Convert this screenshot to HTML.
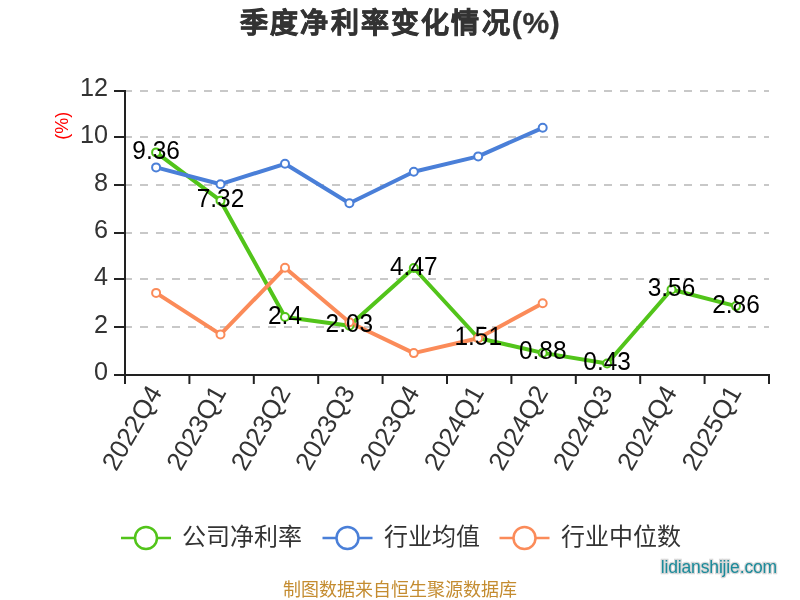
<!DOCTYPE html>
<html lang="zh-CN"><head><meta charset="utf-8"><style>
html,body{margin:0;padding:0;background:#fff;}
body{width:800px;height:600px;overflow:hidden;position:relative;font-family:"Liberation Sans",sans-serif;}
svg{position:absolute;left:0;top:0;will-change:transform;}
.ax{font-size:26px;fill:#333;}
.dl{font-size:26px;fill:#000;}
.yn{font-size:18px;fill:#f00;}
.lg{font-size:24px;fill:#333;}
.title{font-size:28px;font-weight:bold;fill:#333;stroke:#333;stroke-width:0.7px;letter-spacing:2.2px;}
.foot{font-size:18px;fill:#c48c30;}
.wm{font-size:17.5px;letter-spacing:-0.15px;fill:#1a8a9a;stroke:#d8d8d8;stroke-width:2.5px;paint-order:stroke;}
</style></head><body>
<svg width="800" height="600" viewBox="0 0 800 600">
<text x="240" y="32.5" class="title">季度净利率变化情况<tspan style="font-size:30px;stroke-width:0.3px;letter-spacing:0.6px">(%)</tspan></text>
<line x1="124" y1="91" x2="769" y2="91" stroke="#c8c8c8" stroke-width="2" stroke-dasharray="8 8"/>
<line x1="124" y1="137" x2="769" y2="137" stroke="#c8c8c8" stroke-width="2" stroke-dasharray="8 8"/>
<line x1="124" y1="185" x2="769" y2="185" stroke="#c8c8c8" stroke-width="2" stroke-dasharray="8 8"/>
<line x1="124" y1="233" x2="769" y2="233" stroke="#c8c8c8" stroke-width="2" stroke-dasharray="8 8"/>
<line x1="124" y1="279" x2="769" y2="279" stroke="#c8c8c8" stroke-width="2" stroke-dasharray="8 8"/>
<line x1="124" y1="327" x2="769" y2="327" stroke="#c8c8c8" stroke-width="2" stroke-dasharray="8 8"/>
<line x1="114" y1="91" x2="125" y2="91" stroke="#222" stroke-width="2"/>
<text transform="translate(108,96.00) scale(0.97,1)" text-anchor="end" class="ax">12</text>
<line x1="114" y1="137" x2="125" y2="137" stroke="#222" stroke-width="2"/>
<text transform="translate(108,143.33) scale(0.97,1)" text-anchor="end" class="ax">10</text>
<line x1="114" y1="185" x2="125" y2="185" stroke="#222" stroke-width="2"/>
<text transform="translate(108,190.67) scale(0.97,1)" text-anchor="end" class="ax">8</text>
<line x1="114" y1="233" x2="125" y2="233" stroke="#222" stroke-width="2"/>
<text transform="translate(108,238.00) scale(0.97,1)" text-anchor="end" class="ax">6</text>
<line x1="114" y1="279" x2="125" y2="279" stroke="#222" stroke-width="2"/>
<text transform="translate(108,285.33) scale(0.97,1)" text-anchor="end" class="ax">4</text>
<line x1="114" y1="327" x2="125" y2="327" stroke="#222" stroke-width="2"/>
<text transform="translate(108,332.66) scale(0.97,1)" text-anchor="end" class="ax">2</text>
<line x1="114" y1="375" x2="125" y2="375" stroke="#222" stroke-width="2"/>
<text transform="translate(108,380.00) scale(0.97,1)" text-anchor="end" class="ax">0</text>
<line x1="125" y1="90" x2="125" y2="376" stroke="#222" stroke-width="2"/>
<line x1="124" y1="375" x2="770" y2="375" stroke="#222" stroke-width="2"/>
<line x1="125.0" y1="375" x2="125.0" y2="384" stroke="#222" stroke-width="2"/>
<line x1="189.4" y1="375" x2="189.4" y2="384" stroke="#222" stroke-width="2"/>
<line x1="253.8" y1="375" x2="253.8" y2="384" stroke="#222" stroke-width="2"/>
<line x1="318.2" y1="375" x2="318.2" y2="384" stroke="#222" stroke-width="2"/>
<line x1="382.6" y1="375" x2="382.6" y2="384" stroke="#222" stroke-width="2"/>
<line x1="447.0" y1="375" x2="447.0" y2="384" stroke="#222" stroke-width="2"/>
<line x1="511.4" y1="375" x2="511.4" y2="384" stroke="#222" stroke-width="2"/>
<line x1="575.8" y1="375" x2="575.8" y2="384" stroke="#222" stroke-width="2"/>
<line x1="640.2" y1="375" x2="640.2" y2="384" stroke="#222" stroke-width="2"/>
<line x1="704.6" y1="375" x2="704.6" y2="384" stroke="#222" stroke-width="2"/>
<line x1="769.0" y1="375" x2="769.0" y2="384" stroke="#222" stroke-width="2"/>
<text transform="translate(146.0,382.6) rotate(-60)" text-anchor="end" dominant-baseline="hanging" class="ax">2022Q4</text>
<text transform="translate(210.4,382.6) rotate(-60)" text-anchor="end" dominant-baseline="hanging" class="ax">2023Q1</text>
<text transform="translate(274.8,382.6) rotate(-60)" text-anchor="end" dominant-baseline="hanging" class="ax">2023Q2</text>
<text transform="translate(339.2,382.6) rotate(-60)" text-anchor="end" dominant-baseline="hanging" class="ax">2023Q3</text>
<text transform="translate(403.6,382.6) rotate(-60)" text-anchor="end" dominant-baseline="hanging" class="ax">2023Q4</text>
<text transform="translate(468.0,382.6) rotate(-60)" text-anchor="end" dominant-baseline="hanging" class="ax">2024Q1</text>
<text transform="translate(532.4,382.6) rotate(-60)" text-anchor="end" dominant-baseline="hanging" class="ax">2024Q2</text>
<text transform="translate(596.8,382.6) rotate(-60)" text-anchor="end" dominant-baseline="hanging" class="ax">2024Q3</text>
<text transform="translate(661.2,382.6) rotate(-60)" text-anchor="end" dominant-baseline="hanging" class="ax">2024Q4</text>
<text transform="translate(725.6,382.6) rotate(-60)" text-anchor="end" dominant-baseline="hanging" class="ax">2025Q1</text>
<polyline points="156.1,152.4 220.5,200.7 285.0,317.0 349.4,325.7 413.8,268.0 478.2,338.0 542.7,352.9 607.1,363.5 671.5,289.5 736.0,306.1" fill="none" stroke="#52c41a" stroke-width="4" stroke-linejoin="round"/>
<polyline points="156.1,167.4 220.5,184.2 285.0,163.8 349.4,203.2 413.8,171.7 478.2,156.4 542.7,127.8" fill="none" stroke="#4a7fd8" stroke-width="4" stroke-linejoin="round"/>
<polyline points="156.1,292.9 220.5,334.4 285.0,267.8 349.4,322.2 413.8,353.1 478.2,338.3 542.7,303.2" fill="none" stroke="#fb8b59" stroke-width="4" stroke-linejoin="round"/>
<circle cx="156.1" cy="152.4" r="4" fill="#fff" stroke="#52c41a" stroke-width="2"/>
<circle cx="220.5" cy="200.7" r="4" fill="#fff" stroke="#52c41a" stroke-width="2"/>
<circle cx="285.0" cy="317.0" r="4" fill="#fff" stroke="#52c41a" stroke-width="2"/>
<circle cx="349.4" cy="325.7" r="4" fill="#fff" stroke="#52c41a" stroke-width="2"/>
<circle cx="413.8" cy="268.0" r="4" fill="#fff" stroke="#52c41a" stroke-width="2"/>
<circle cx="478.2" cy="338.0" r="4" fill="#fff" stroke="#52c41a" stroke-width="2"/>
<circle cx="542.7" cy="352.9" r="4" fill="#fff" stroke="#52c41a" stroke-width="2"/>
<circle cx="607.1" cy="363.5" r="4" fill="#fff" stroke="#52c41a" stroke-width="2"/>
<circle cx="671.5" cy="289.5" r="4" fill="#fff" stroke="#52c41a" stroke-width="2"/>
<circle cx="736.0" cy="306.1" r="4" fill="#fff" stroke="#52c41a" stroke-width="2"/>
<circle cx="156.1" cy="167.4" r="4" fill="#fff" stroke="#4a7fd8" stroke-width="2"/>
<circle cx="220.5" cy="184.2" r="4" fill="#fff" stroke="#4a7fd8" stroke-width="2"/>
<circle cx="285.0" cy="163.8" r="4" fill="#fff" stroke="#4a7fd8" stroke-width="2"/>
<circle cx="349.4" cy="203.2" r="4" fill="#fff" stroke="#4a7fd8" stroke-width="2"/>
<circle cx="413.8" cy="171.7" r="4" fill="#fff" stroke="#4a7fd8" stroke-width="2"/>
<circle cx="478.2" cy="156.4" r="4" fill="#fff" stroke="#4a7fd8" stroke-width="2"/>
<circle cx="542.7" cy="127.8" r="4" fill="#fff" stroke="#4a7fd8" stroke-width="2"/>
<circle cx="156.1" cy="292.9" r="4" fill="#fff" stroke="#fb8b59" stroke-width="2"/>
<circle cx="220.5" cy="334.4" r="4" fill="#fff" stroke="#fb8b59" stroke-width="2"/>
<circle cx="285.0" cy="267.8" r="4" fill="#fff" stroke="#fb8b59" stroke-width="2"/>
<circle cx="349.4" cy="322.2" r="4" fill="#fff" stroke="#fb8b59" stroke-width="2"/>
<circle cx="413.8" cy="353.1" r="4" fill="#fff" stroke="#fb8b59" stroke-width="2"/>
<circle cx="478.2" cy="338.3" r="4" fill="#fff" stroke="#fb8b59" stroke-width="2"/>
<circle cx="542.7" cy="303.2" r="4" fill="#fff" stroke="#fb8b59" stroke-width="2"/>
<text transform="translate(156.1,158.9) scale(0.94,1)" text-anchor="middle" class="dl">9.36</text>
<text transform="translate(220.5,207.2) scale(0.94,1)" text-anchor="middle" class="dl">7.32</text>
<text transform="translate(285.0,323.5) scale(0.94,1)" text-anchor="middle" class="dl">2.4</text>
<text transform="translate(349.4,332.2) scale(0.94,1)" text-anchor="middle" class="dl">2.03</text>
<text transform="translate(413.8,274.5) scale(0.94,1)" text-anchor="middle" class="dl">4.47</text>
<text transform="translate(478.2,344.5) scale(0.94,1)" text-anchor="middle" class="dl">1.51</text>
<text transform="translate(542.7,359.4) scale(0.94,1)" text-anchor="middle" class="dl">0.88</text>
<text transform="translate(607.1,370.0) scale(0.94,1)" text-anchor="middle" class="dl">0.43</text>
<text transform="translate(671.5,296.0) scale(0.94,1)" text-anchor="middle" class="dl">3.56</text>
<text transform="translate(736.0,312.6) scale(0.94,1)" text-anchor="middle" class="dl">2.86</text>
<text transform="translate(67.5,125.7) rotate(-90)" text-anchor="middle" class="yn">(%)</text>
<line x1="121" y1="538" x2="171" y2="538" stroke="#52c41a" stroke-width="2.5"/>
<circle cx="146" cy="538" r="11" fill="#fff" stroke="#52c41a" stroke-width="2.5"/>
<text x="182" y="545" class="lg">公司净利率</text>
<line x1="322.5" y1="538" x2="372.5" y2="538" stroke="#4a7fd8" stroke-width="2.5"/>
<circle cx="347.5" cy="538" r="11" fill="#fff" stroke="#4a7fd8" stroke-width="2.5"/>
<text x="383.5" y="545" class="lg">行业均值</text>
<line x1="499.5" y1="538" x2="549.5" y2="538" stroke="#fb8b59" stroke-width="2.5"/>
<circle cx="524.5" cy="538" r="11" fill="#fff" stroke="#fb8b59" stroke-width="2.5"/>
<text x="560.5" y="545" class="lg">行业中位数</text>
<text x="400" y="596" text-anchor="middle" class="foot">制图数据来自恒生聚源数据库</text>
<text x="777" y="572.5" text-anchor="end" class="wm">lidianshijie.com</text>
</svg>
</body></html>
